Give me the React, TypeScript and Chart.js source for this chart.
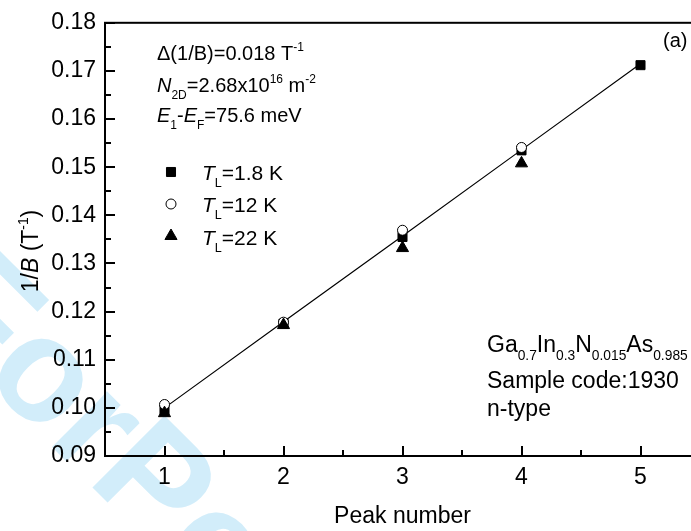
import React, { useEffect, useRef } from "react";
import { Chart, registerables } from "chart.js";

Chart.register(...registerables);

// Peak index and measured 1/B positions (T^-1) at three lattice temperatures
const peaks = [1, 2, 3, 4, 5];
const invB_1p8K = [0.0997, 0.1175, 0.1355, 0.1535, 0.1712];
const invB_12K = [0.1007, 0.1178, 0.1369, 0.1541];
const invB_22K = [0.0989, 0.1172, 0.1332, 0.1508];
// Linear fit through the peaks
const fitLine = [0.1, 0.1179, 0.1357, 0.1536, 0.1715];

const xTicks = [1, 2, 3, 4, 5];
const xMinor = [1.5, 2.5, 3.5, 4.5];
const yTicks = [0.09, 0.1, 0.11, 0.12, 0.13, 0.14, 0.15, 0.16, 0.17, 0.18];
const yMinor = [0.095, 0.105, 0.115, 0.125, 0.135, 0.145, 0.155, 0.165, 0.175];

const FONT = "'Liberation Sans', Arial, Helvetica, sans-serif";

type Seg = { t: string; it?: boolean; sub?: boolean; sup?: boolean };

function richWidth(ctx: CanvasRenderingContext2D, segs: Seg[], size: number) {
  let w = 0;
  for (const s of segs) {
    const fs = s.sub || s.sup ? size * 0.6 : size;
    ctx.font = `${s.it ? "italic " : ""}${fs}px ${FONT}`;
    w += ctx.measureText(s.t).width;
  }
  return w;
}

function drawRich(ctx: CanvasRenderingContext2D, segs: Seg[], x: number, y: number, size: number) {
  let cx = x;
  ctx.textAlign = "left";
  ctx.textBaseline = "alphabetic";
  for (const s of segs) {
    const fs = s.sub || s.sup ? size * 0.6 : size;
    ctx.font = `${s.it ? "italic " : ""}${fs}px ${FONT}`;
    const dy = s.sub ? size * 0.33 : s.sup ? -size * 0.45 : 0;
    ctx.fillText(s.t, cx, y + dy);
    cx += ctx.measureText(s.t).width;
  }
}

const infoLines: Seg[][] = [
  [{ t: "\u0394(1/B)=0.018 T" }, { t: "-1", sup: true }],
  [{ t: "N", it: true }, { t: "2D", sub: true }, { t: "=2.68x10" }, { t: "16", sup: true }, { t: " m" }, { t: "-2", sup: true }],
  [{ t: "E", it: true }, { t: "1", sub: true }, { t: "-" }, { t: "E", it: true }, { t: "F", sub: true }, { t: "=75.6 meV" }],
];

const sampleLines: Seg[][] = [
  [
    { t: "Ga" }, { t: "0.7", sub: true },
    { t: "In" }, { t: "0.3", sub: true },
    { t: "N" }, { t: "0.015", sub: true },
    { t: "As" }, { t: "0.985", sub: true },
  ],
  [{ t: "Sample code:1930" }],
  [{ t: "n-type" }],
];

const legendItems: { label: Seg[]; style: string; fill: string }[] = [
  { label: [{ t: "T", it: true }, { t: "L", sub: true }, { t: "=1.8 K" }], style: "rect", fill: "#000" },
  { label: [{ t: "T", it: true }, { t: "L", sub: true }, { t: "=12 K" }], style: "circle", fill: "#fff" },
  { label: [{ t: "T", it: true }, { t: "L", sub: true }, { t: "=22 K" }], style: "triangle", fill: "#000" },
];

const markerRadius: Record<string, number> = { rect: 6.4, circle: 5, triangle: 7 };

function drawMarker(ctx: CanvasRenderingContext2D, style: string, x: number, y: number, r: number) {
  ctx.beginPath();
  if (style === "rect") {
    const s = Math.SQRT1_2 * r;
    ctx.rect(x - s, y - s, 2 * s, 2 * s);
  } else if (style === "circle") {
    ctx.arc(x, y, r, 0, Math.PI * 2);
  } else {
    const h = (Math.sqrt(3) / 2) * r;
    ctx.moveTo(x, y - r);
    ctx.lineTo(x + h, y + r / 2);
    ctx.lineTo(x - h, y + r / 2);
    ctx.closePath();
  }
  ctx.fill();
  ctx.stroke();
}

const decorPlugin = {
  id: "decor",
  beforeDraw(chart: any) {
    // diagonal review watermark behind the plot
    const ctx: CanvasRenderingContext2D = chart.ctx;
    ctx.save();
    ctx.fillStyle = "rgb(210,237,250)";
    ctx.font = `bold 148px ${FONT}`;
    ctx.translate(-83, 312);
    ctx.rotate(Math.PI / 4);
    ctx.textBaseline = "alphabetic";
    ctx.textAlign = "left";
    ctx.fillText("For", 0, 0);
    const adv = ctx.measureText("For").width;
    ctx.fillText("Peer Review", adv, 0);
    ctx.restore();
  },
  afterDraw(chart: any) {
    const ctx: CanvasRenderingContext2D = chart.ctx;
    const { left, right, top, bottom } = chart.chartArea;
    const xs = chart.scales.x;
    const ys = chart.scales.y;
    ctx.save();
    ctx.strokeStyle = "#000";
    ctx.fillStyle = "#000";
    ctx.lineWidth = 2;
    // frame
    ctx.strokeRect(left, top, right - left, bottom - top);
    // inward ticks
    ctx.beginPath();
    for (const v of xTicks) {
      const p = Math.round(xs.getPixelForValue(v));
      ctx.moveTo(p, bottom); ctx.lineTo(p, bottom - 10);
    }
    for (const v of xMinor) {
      const p = Math.round(xs.getPixelForValue(v));
      ctx.moveTo(p, bottom); ctx.lineTo(p, bottom - 6);
    }
    for (const v of yTicks) {
      const p = Math.round(ys.getPixelForValue(v));
      ctx.moveTo(left, p); ctx.lineTo(left + 10, p);
    }
    for (const v of yMinor) {
      const p = Math.round(ys.getPixelForValue(v));
      ctx.moveTo(left, p); ctx.lineTo(left + 6, p);
    }
    ctx.stroke();

    // axis titles
    ctx.font = `23px ${FONT}`;
    ctx.textAlign = "center";
    ctx.textBaseline = "alphabetic";
    ctx.fillText("Peak number", (left + right) / 2, 523);

    const yTitle: Seg[] = [{ t: "1/" }, { t: "B", it: true }, { t: " (T" }, { t: "-1", sup: true }, { t: ")" }];
    ctx.save();
    ctx.translate(38, 251);
    ctx.rotate(-Math.PI / 2);
    const w = richWidth(ctx, yTitle, 23);
    drawRich(ctx, yTitle, -w / 2, 0, 23);
    ctx.restore();

    // parameters block
    const infoBase = [60, 92, 122];
    infoLines.forEach((l, i) => drawRich(ctx, l, 157, infoBase[i], 20));

    // legend
    const legBase = [180, 212, 245];
    const legMarkY = [172, 204, 236];
    legendItems.forEach((it, i) => {
      ctx.save();
      ctx.fillStyle = it.fill;
      ctx.strokeStyle = "#000";
      ctx.lineWidth = 1;
      drawMarker(ctx, it.style, 171, legMarkY[i], markerRadius[it.style]);
      ctx.restore();
      drawRich(ctx, it.label, 202, legBase[i], 21);
    });

    // sample description
    const sampBase = [352, 388, 416];
    sampleLines.forEach((l, i) => drawRich(ctx, l, 487, sampBase[i], 23));

    // panel label
    ctx.font = `20px ${FONT}`;
    ctx.textAlign = "left";
    ctx.fillText("(a)", 663, 47);
    ctx.restore();
  },
};

export default function App() {
  const ref = useRef<HTMLCanvasElement>(null);
  useEffect(() => {
    if (!ref.current) return;
    const pts = (ys: number[]) => ys.map((y, i) => ({ x: peaks[i], y }));
    const chart = new Chart(ref.current, {
      type: "scatter",
      data: {
        datasets: [
          {
            label: "22 K",
            data: pts(invB_22K),
            pointStyle: "triangle",
            pointRadius: 7,
            pointBackgroundColor: "#000",
            pointBorderColor: "#000",
            pointBorderWidth: 1,
            showLine: false,
            order: 0,
          },
          {
            label: "12 K",
            data: pts(invB_12K),
            pointStyle: "circle",
            pointRadius: 5,
            pointBackgroundColor: "#fff",
            pointBorderColor: "#000",
            pointBorderWidth: 1,
            showLine: false,
            order: 1,
          },
          {
            label: "1.8 K",
            data: pts(invB_1p8K),
            pointStyle: "rect",
            pointRadius: 6.4,
            pointBackgroundColor: "#000",
            pointBorderColor: "#000",
            pointBorderWidth: 1,
            showLine: false,
            order: 2,
          },
          {
            label: "fit",
            data: pts(fitLine),
            showLine: true,
            borderColor: "#000",
            borderWidth: 1.2,
            pointRadius: 0,
            order: 3,
          },
        ],
      },
      options: {
        animation: false,
        responsive: false,
        devicePixelRatio: 1,
        layout: { padding: { top: 19, right: 10, left: 0, bottom: 0 } },
        plugins: { legend: { display: false }, tooltip: { enabled: false } },
        scales: {
          x: {
            type: "linear",
            min: 0.5,
            max: 5.5,
            grid: { display: false, drawTicks: false },
            border: { display: false },
            afterBuildTicks: (s: any) => {
              s.ticks = xTicks.map((v) => ({ value: v }));
            },
            afterFit: (s: any) => {
              s.height = 75;
            },
            ticks: {
              padding: 8,
              color: "#000",
              font: { family: FONT, size: 23 },
              callback: (v: any) => String(v),
              maxRotation: 0,
              autoSkip: false,
            },
          },
          y: {
            type: "linear",
            min: 0.09,
            max: 0.18,
            grid: { display: false, drawTicks: false },
            border: { display: false },
            afterBuildTicks: (s: any) => {
              s.ticks = yTicks.map((v) => ({ value: v }));
            },
            afterFit: (s: any) => {
              s.width = 105;
            },
            ticks: {
              padding: 9,
              color: "#000",
              font: { family: FONT, size: 23 },
              callback: (v: any) => Number(v).toFixed(2),
              autoSkip: false,
            },
          },
        },
      },
      plugins: [decorPlugin],
    });
    return () => chart.destroy();
  }, []);

  return (
    <div style={{ position: "fixed", left: 0, top: 0, width: 691, height: 531, overflow: "hidden", background: "#fff" }}>
      <canvas ref={ref} width={710} height={531} style={{ display: "block" }} />
    </div>
  );
}
